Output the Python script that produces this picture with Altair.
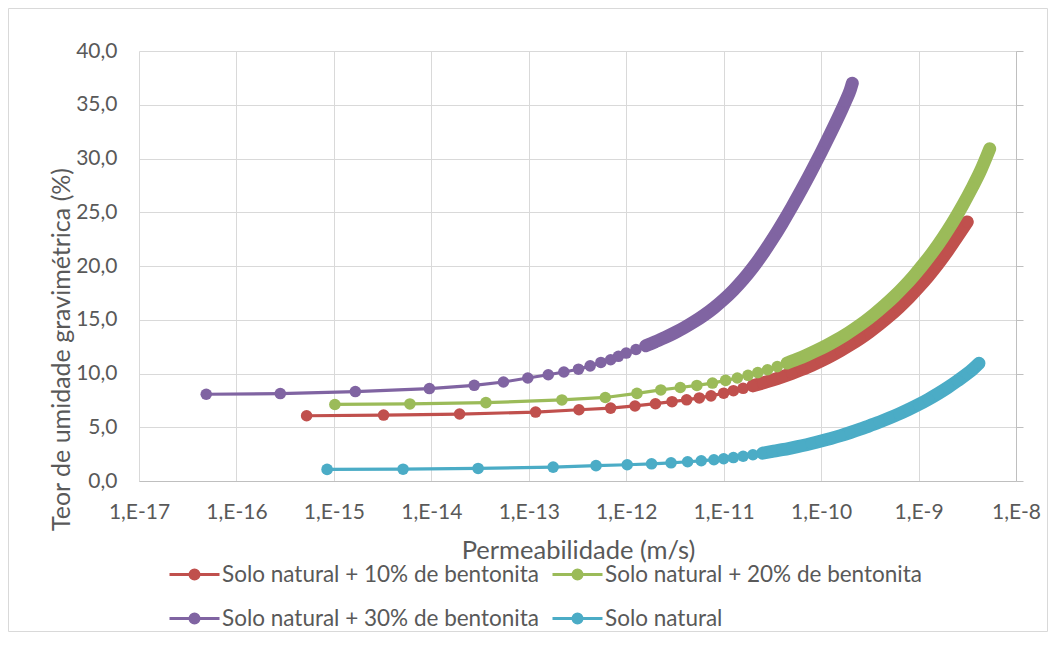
import altair as alt
import pandas as pd

SERIES = [
    "Solo natural + 10% de bentonita",
    "Solo natural + 20% de bentonita",
    "Solo natural + 30% de bentonita",
    "Solo natural",
]
COLORS = ["#C0504D", "#9BBB59", "#8064A2", "#4BACC6"]

# log10 of permeability (m/s) and gravimetric moisture content (%)
RED_LOGK = [-15.28, -14.49, -13.71, -12.93, -12.485, -12.16, -11.91, -11.70, -11.53, -11.38,
            -11.25, -11.13, -11.0, -10.9, -10.8, -10.7, -10.6, -10.5, -10.4, -10.3, -10.2,
            -10.1, -10.0, -9.9, -9.8, -9.7, -9.6, -9.5, -9.4, -9.3, -9.2, -9.1, -9.0, -8.9,
            -8.8, -8.7, -8.6, -8.5]
RED_W = [6.07, 6.13, 6.23, 6.41, 6.63, 6.78, 6.98, 7.19, 7.38, 7.55,
         7.73, 7.92, 8.17, 8.40, 8.62, 8.85, 9.11, 9.38, 9.68, 10.01, 10.37,
         10.75, 11.17, 11.63, 12.13, 12.67, 13.25, 13.89, 14.58, 15.33, 16.15, 17.03, 18.00, 19.04,
         20.18, 21.42, 22.76, 24.10]

GREEN_LOGK = [-14.99, -14.22, -13.44, -12.66, -12.215, -11.89, -11.645, -11.445, -11.275, -11.115,
              -10.98, -10.86, -10.75, -10.65, -10.55, -10.45, -10.35, -10.25, -10.15, -10.05,
              -9.95, -9.85, -9.75, -9.65, -9.55, -9.45, -9.35, -9.25, -9.15, -9.05,
              -8.95, -8.85, -8.75, -8.65, -8.55, -8.45, -8.37, -8.27]
GREEN_W = [7.12, 7.17, 7.29, 7.54, 7.77, 8.15, 8.47, 8.70, 8.89, 9.11,
           9.36, 9.58, 9.83, 10.08, 10.35, 10.64, 10.97, 11.32, 11.70, 12.12,
           12.57, 13.07, 13.61, 14.21, 14.85, 15.56, 16.33, 17.16, 18.08, 19.08,
           20.17, 21.35, 22.65, 24.06, 25.61, 27.29, 28.74, 30.90]

PURPLE_LOGK = [-16.31, -15.55, -14.78, -14.02, -13.56, -13.26, -13.01, -12.80, -12.64, -12.49,
               -12.37, -12.26, -12.16, -12.08, -12.00, -11.90, -11.80, -11.70, -11.60, -11.50,
               -11.40, -11.30, -11.20, -11.10, -11.00, -10.90, -10.80, -10.70, -10.60, -10.50,
               -10.40, -10.30, -10.20, -10.10, -10.00, -9.90, -9.80, -9.75, -9.70, -9.68]
PURPLE_W = [8.07, 8.13, 8.32, 8.60, 8.90, 9.21, 9.58, 9.88, 10.14, 10.40,
            10.71, 11.03, 11.28, 11.60, 11.90, 12.23, 12.58, 12.96, 13.36, 13.80,
            14.29, 14.83, 15.43, 16.11, 16.88, 17.75, 18.74, 19.86, 21.11, 22.48,
            23.95, 25.50, 27.12, 28.81, 30.57, 32.40, 34.30, 35.30, 36.40, 37.00]

CYAN_LOGK = [-15.07, -14.29, -13.52, -12.75, -12.31, -11.99, -11.74, -11.54, -11.37, -11.23,
             -11.10, -11.0, -10.9, -10.8, -10.7, -10.6, -10.5, -10.4, -10.3, -10.2,
             -10.1, -10.0, -9.9, -9.8, -9.7, -9.6, -9.5, -9.4, -9.3, -9.2,
             -9.1, -9.0, -8.9, -8.8, -8.7, -8.6, -8.5, -8.45, -8.38]
CYAN_W = [1.08, 1.10, 1.17, 1.29, 1.43, 1.51, 1.60, 1.69, 1.79, 1.88,
          1.98, 2.07, 2.18, 2.30, 2.44, 2.59, 2.75, 2.91, 3.09, 3.28,
          3.49, 3.72, 3.96, 4.22, 4.51, 4.82, 5.16, 5.49, 5.85, 6.24,
          6.66, 7.11, 7.60, 8.13, 8.70, 9.32, 9.98, 10.35, 10.95]

K_TICKS = [1e-17, 1e-16, 1e-15, 1e-14, 1e-13, 1e-12, 1e-11, 1e-10, 1e-9, 1e-8]
W_TICKS = [0, 5, 10, 15, 20, 25, 30, 35, 40]

# where the markers merge into a continuous band (log10 k)
BAND_FROM = {SERIES[0]: -10.7, SERIES[1]: -10.35, SERIES[2]: -11.8, SERIES[3]: -10.6}

rows = []
for name, lk, ww in zip(SERIES, [RED_LOGK, GREEN_LOGK, PURPLE_LOGK, CYAN_LOGK],
                        [RED_W, GREEN_W, PURPLE_W, CYAN_W]):
    for i, (a, b) in enumerate(zip(lk, ww)):
        rows.append({"series": name, "k": 10 ** a, "w": b, "idx": i,
                     "band": bool(a >= BAND_FROM[name] - 1e-9)})
df = pd.DataFrame(rows)

FONT = "Lato"
TXT = "#595959"
GRID = "#d9d9d9"
AXL = "#bfbfbf"

color_scale = alt.Scale(domain=SERIES, range=COLORS)
x_scale = alt.Scale(type="log", domain=[1e-17, 1e-8], nice=False)
y_scale = alt.Scale(domain=[0, 40], nice=False, zero=False)

x_axis = alt.Axis(values=K_TICKS, labelExpr="'1,E-' + round(-log(datum.value) / LN10)",
                  title="Permeabilidade (m/s)", grid=True, gridColor=GRID, gridWidth=1,
                  domain=True, domainColor=AXL, domainWidth=1, ticks=False, tickSize=0,
                  labelPadding=20, labelFontSize=21, labelColor=TXT, labelFont=FONT,
                  labelFlush=False, labelOverlap=False,
                  titleFont=FONT, titleFontSize=25.5, titleColor=TXT, titleFontWeight="normal",
                  titleX=439, titleY=77, titleAlign="center", titleBaseline="alphabetic")

y_axis_left = alt.Axis(values=W_TICKS, labelExpr="replace(format(datum.value, '.1f'), '.', ',')",
                       title="Teor de umidade gravimétrica (%)", grid=True, gridColor=GRID,
                       gridWidth=1, domain=False, ticks=False, tickSize=0, labelPadding=22,
                       labelFontSize=21, labelColor=TXT, labelFont=FONT, labelFlush=False,
                       titleFont=FONT, titleFontSize=25, titleColor=TXT,
                       titleFontWeight="normal", titleAngle=270, titleX=-70, titleY=298,
                       titleAlign="center", titleBaseline="alphabetic")

y_axis_right = alt.Axis(orient="right", values=W_TICKS, labels=False, ticks=True, tickSize=7,
                        tickColor=AXL, tickWidth=1, domain=True, domainColor=AXL,
                        domainWidth=1, grid=False, title=None)

SYMBOL = ("M-1.25,0H1.25"
          "M-0.225,0A0.225,0.225,0,1,0,0.225,0A0.225,0.225,0,1,0,-0.225,0"
          "M-0.075,0A0.075,0.075,0,1,0,0.075,0A0.075,0.075,0,1,0,-0.075,0")

legend = alt.Legend(title=None, orient="none", legendX=34, legendY=502, columns=2,
                    direction="horizontal",
                    symbolType=SYMBOL, symbolSize=1600, symbolStrokeWidth=3, symbolOpacity=1,
                    labelFont=FONT, labelFontSize=22.5, labelColor=TXT, labelOffset=6,
                    labelLimit=0, columnPadding=7, rowPadding=11, padding=0)

X = alt.X("k:Q", scale=x_scale, axis=x_axis)

frame = alt.Chart(pd.DataFrame({"a": [0]})).mark_rect(
    fill="transparent", stroke=GRID, strokeWidth=1, clip=False
).encode(x=alt.value(-130.5), x2=alt.value(908.5), y=alt.value(-42.5), y2=alt.value(580.5))

layers = [frame]
for i, name in enumerate(SERIES):
    base = alt.Chart(df).transform_filter(alt.datum.series == name)
    y_line = alt.Y("w:Q", scale=y_scale, axis=y_axis_left if i == 0 else None)
    y_band = alt.Y("w:Q", scale=y_scale, axis=y_axis_right if i == 0 else None)
    y_pts = alt.Y("w:Q", scale=y_scale, axis=None)
    line = base.mark_line(strokeWidth=3.2).encode(
        x=X, y=y_line,
        color=alt.Color("series:N", scale=color_scale, legend=legend),
        order="idx:Q")
    band = base.transform_filter(alt.datum.band).mark_line(
        strokeWidth=13, strokeCap="round", strokeJoin="round", interpolate="monotone"
    ).encode(x=X, y=y_band,
             stroke=alt.Stroke("series:N", scale=color_scale, legend=None),
             order="idx:Q")
    pts = base.mark_circle(size=133, opacity=1).encode(
        x=X, y=y_pts, fill=alt.Fill("series:N", scale=color_scale, legend=None))
    layers += [line, band, pts]

chart = alt.layer(*layers).resolve_axis(y="independent").properties(
    width=877, height=430,
    autosize=alt.AutoSizeParams(type="none"),
    padding={"left": 131, "top": 43, "right": 32, "bottom": 151},
    background="white",
).configure_view(stroke="transparent")

chart.save("out.html", embed_options={"renderer": "svg", "actions": False})
